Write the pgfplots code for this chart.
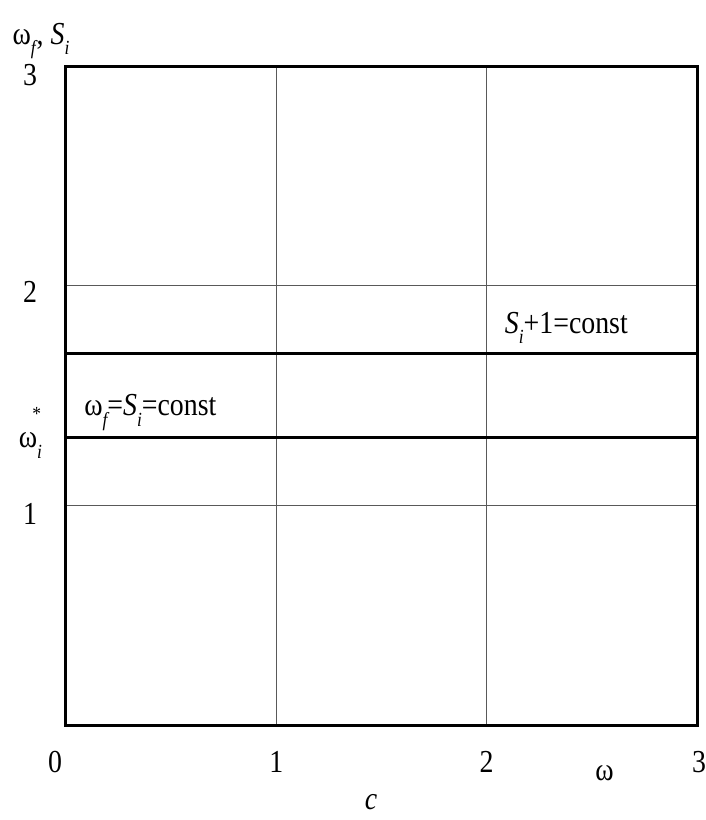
\documentclass[border=0pt]{standalone}
\usepackage{pgfplots}
\pgfplotsset{compat=1.18}
\usepackage{fontspec}
\setmainfont{Liberation Serif}[FakeStretch=0.87]
\newcommand{\sub}[1]{\raisebox{-0.33em}{\fontsize{20}{23}\selectfont\itshape #1}}
\newcommand{\sups}[1]{\raisebox{0.85em}{\fontsize{20}{23}\selectfont #1}}
\begin{document}
\begin{tikzpicture}[every node/.style={font=\fontsize{32}{37}\selectfont}]
\useasboundingbox (-66pt,-95pt) rectangle (639pt,725pt);
\begin{axis}[
  scale only axis,
  width=631pt, height=659pt,
  xmin=0, xmax=3, ymin=0, ymax=3,
  xtick={1,2}, ytick={1,2},
  xticklabels={}, yticklabels={},
  major tick length=0pt,
  grid=major,
  major grid style={draw=black!65, line width=0.8pt},
  axis line style={line width=3pt},
  clip=false,
]
% constant levels
\addplot[black, line width=2.8pt] coordinates {(0,1.307) (3,1.307)};
\addplot[black, line width=2.8pt] coordinates {(0,1.693) (3,1.693)};
% tick labels
\node at (axis cs:0,0) [xshift=-11pt, yshift=-37pt] {0};
\node at (axis cs:1,0) [yshift=-37pt] {1};
\node at (axis cs:2,0) [yshift=-37pt] {2};
\node at (axis cs:3,0) [xshift=2pt, yshift=-37pt] {3};
\node at (axis cs:0,3) [xshift=-36pt, yshift=-9pt] {3};
\node at (axis cs:0,2) [xshift=-36pt, yshift=-6pt] {2};
\node at (axis cs:0,1) [xshift=-36pt, yshift=-9pt] {1};
\node at (axis cs:0,1.307) [xshift=-36pt, yshift=5pt] {ω\sub{i}\hspace{-0.3em}\sups{*}};
% axis captions
\node[anchor=base west] at (axis cs:0,3) [xshift=-57pt, yshift=22pt] {ω\sub{f}\kern1pt, \textit{S}\sub{i}};
\node at (axis cs:2.56,0) [yshift=-48pt] {ω};
\node at (axis cs:1.45,0) [yshift=-77pt] {\textit{c}};
% line labels
\node[anchor=base west] at (axis cs:0.07,1.307) [yshift=22pt] {ω\sub{f}=\textit{S}\sub{i}=const};
\node[anchor=base west] at (axis cs:2.07,1.693) [yshift=20pt] {\textit{S}\sub{i}+1=const};
\end{axis}
\end{tikzpicture}
\end{document}
